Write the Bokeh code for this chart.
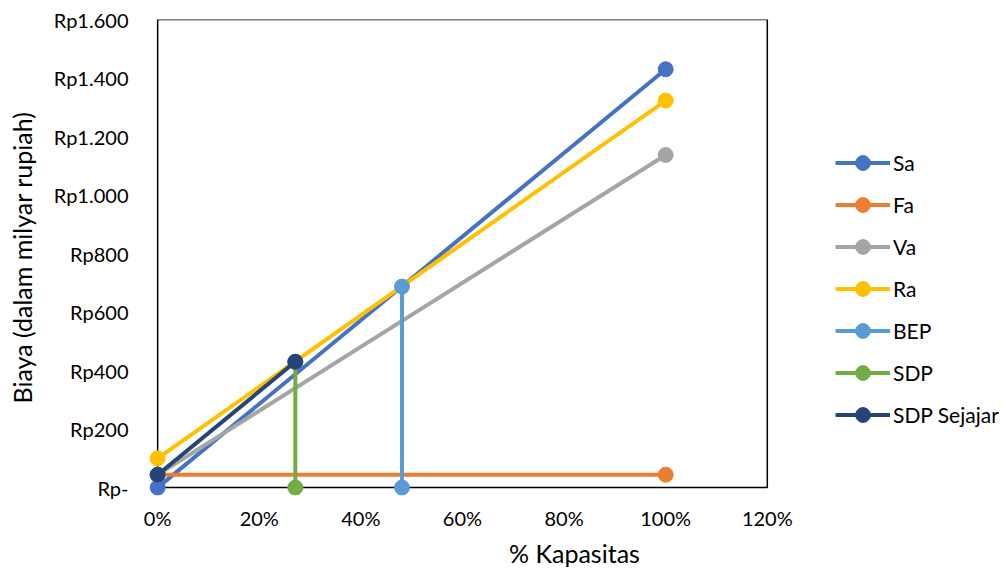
from bokeh.plotting import figure
from bokeh.models import FixedTicker, BoxAnnotation, Legend, LegendItem, Range1d
from bokeh.embed import file_html
from bokeh.resources import INLINE

# ---- data ----
series_names = ["Sa", "Fa", "Va", "Ra", "BEP", "SDP", "SDP Sejajar"]
sa_x = [0.0, 1.0]
sa_y = [0, 1430]
fa_x = [0.0, 1.0]
fa_y = [44, 44]
va_x = [0.0, 1.0]
va_y = [44, 1137]
ra_x = [0.0, 1.0]
ra_y = [100, 1323]
bep_x = [0.481, 0.481]
bep_y = [0, 687]
sdp_x = [0.271, 0.271]
sdp_y = [0, 430]
sej_x = [0.0, 0.271]
sej_y = [44, 430]

colors = ["#4472C4", "#ED7D31", "#A5A5A5", "#FFC000", "#5B9BD5", "#70AD47", "#264478"]

x_ticks = [0, 0.2, 0.4, 0.6, 0.8, 1.0, 1.2]
x_tick_labels = ["0%", "20%", "40%", "60%", "80%", "100%", "120%"]
y_ticks = [0, 200, 400, 600, 800, 1000, 1200, 1400, 1600]
y_tick_labels = ["Rp-", "Rp200", "Rp400", "Rp600", "Rp800", "Rp1.000", "Rp1.200", "Rp1.400", "Rp1.600"]

FONT = "Lato"

p = figure(width=1000, height=570, output_backend="svg", toolbar_location=None,
           x_range=Range1d(-0.018, 1.659), y_range=Range1d(-27, 1600),
           min_border_left=148, min_border_right=0, min_border_top=19, min_border_bottom=0)
p.outline_line_color = None
p.xgrid.visible = False
p.ygrid.visible = False
p.background_fill_color = "white"

# plot-area box from 0..120%, 0..1600
box = BoxAnnotation(left=0, right=1.2, bottom=0, top=1600, fill_color=None, fill_alpha=0,
                    line_color="black", line_alpha=1.0, line_width=1.5, level="underlay")
p.add_layout(box)

all_x = [sa_x, fa_x, va_x, ra_x, bep_x, sdp_x, sej_x]
all_y = [sa_y, fa_y, va_y, ra_y, bep_y, sdp_y, sej_y]
items = []
for name, xs, ys, c in zip(series_names, all_x, all_y, colors):
    l = p.line(xs, ys, line_color=c, line_width=4)
    s = p.scatter(xs, ys, size=15, fill_color=c, line_color=c)
    items.append(LegendItem(label=name, renderers=[l, s]))

for ax in (p.xaxis[0], p.yaxis[0]):
    ax.axis_line_color = None
    ax.major_tick_line_color = None
    ax.minor_tick_line_color = None
    ax.major_tick_out = 0
    ax.major_tick_in = 0
    ax.minor_tick_out = 0
    ax.minor_tick_in = 0
    ax.major_label_text_font = FONT
    ax.major_label_text_font_size = "20px"
    ax.major_label_text_color = "black"
    ax.axis_label_text_font = FONT
    ax.axis_label_text_font_style = "normal"
    ax.axis_label_text_color = "black"

p.xaxis[0].ticker = FixedTicker(ticks=x_ticks)
p.xaxis[0].major_label_overrides = {t: lab for t, lab in zip(x_ticks, x_tick_labels)}
p.xaxis[0].major_label_standoff = 10
p.xaxis[0].axis_label = "% Kapasitas"
p.xaxis[0].axis_label_text_font_size = "25px"
p.xaxis[0].axis_label_standoff = 5

p.yaxis[0].ticker = FixedTicker(ticks=y_ticks)
p.yaxis[0].major_label_overrides = {t: lab for t, lab in zip(y_ticks, y_tick_labels)}
p.yaxis[0].major_label_standoff = 20
p.yaxis[0].axis_label = "Biaya (dalam milyar rupiah)"
p.yaxis[0].axis_label_text_font_size = "25px"
p.yaxis[0].axis_label_standoff = 14

legend = Legend(items=items, location=(687, 62), margin=0, padding=0,
                border_line_color=None, background_fill_alpha=0,
                glyph_width=55, glyph_height=37, label_height=37, spacing=5,
                label_standoff=3, label_text_font=FONT, label_text_font_size="21px",
                label_text_color="black")
p.add_layout(legend, "center")

open("out.html", "w").write(file_html(p, INLINE))
